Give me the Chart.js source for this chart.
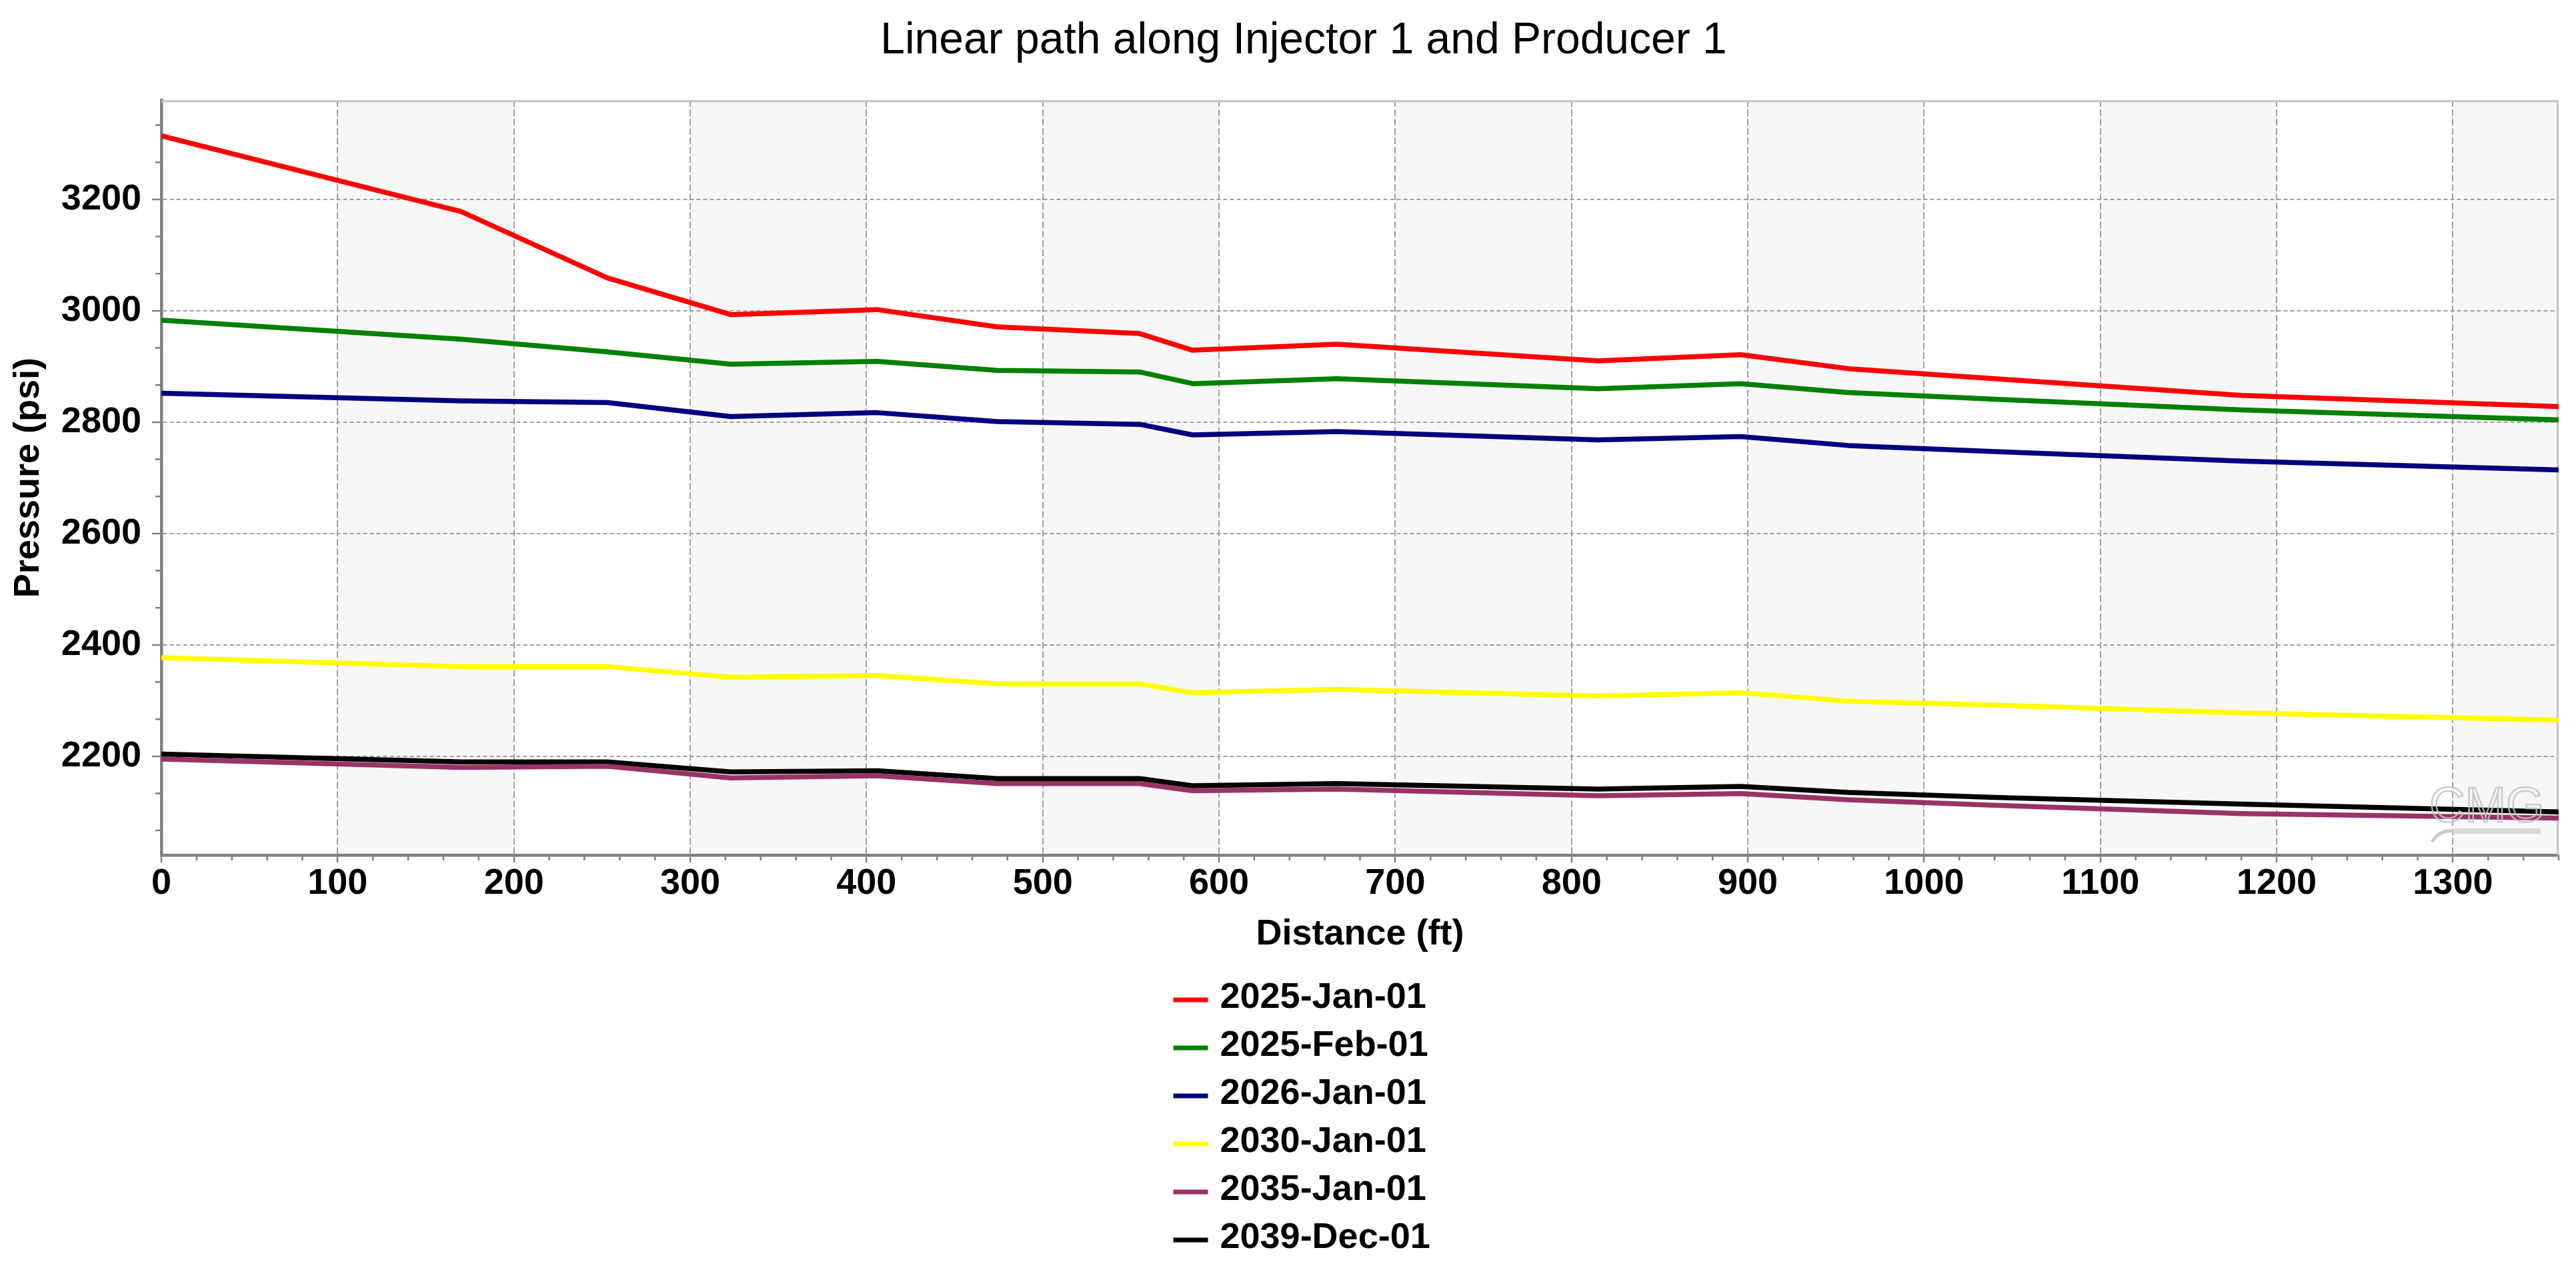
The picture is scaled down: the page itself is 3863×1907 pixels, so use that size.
<!DOCTYPE html>
<html>
<head>
<meta charset="utf-8">
<script src="https://cdn.jsdelivr.net/npm/chart.js@4.4.1/dist/chart.umd.min.js"></script>
<style>
html,body{margin:0;padding:0;background:#ffffff;overflow:hidden}
canvas{display:block}
</style>
</head>
<body>
<canvas id="c" width="3863" height="1907" style="width:3863px;height:1907px"></canvas>
<script>
// ---------------- data ----------------
const distanceFt = [0, 170, 253, 323, 406, 474, 555, 585, 667, 815, 896, 957, 1040, 1180, 1360];
const seriesLabels = ['2025-Jan-01', '2025-Feb-01', '2026-Jan-01', '2030-Jan-01', '2035-Jan-01', '2039-Dec-01'];
const p2025Jan = [3314, 3178, 3059, 2993, 3002, 2971, 2959, 2929, 2940, 2910, 2921, 2896, 2878, 2848, 2828];
const p2025Feb = [2983, 2949, 2926, 2904, 2909, 2893, 2890, 2869, 2878, 2860, 2869, 2853, 2841, 2822, 2804];
const p2026Jan = [2852, 2838, 2835, 2810, 2817, 2801, 2796, 2777, 2783, 2768, 2774, 2758, 2747, 2730, 2714];
const p2030Jan = [2377, 2361, 2361, 2342, 2345, 2330, 2330, 2314, 2320, 2308, 2314, 2299, 2292, 2278, 2265];
const p2035Jan = [2195, 2180, 2182, 2161, 2165, 2151, 2151, 2138, 2141, 2129, 2133, 2122, 2112, 2097, 2089];
const p2039Dec = [2204, 2190, 2190, 2172, 2174, 2160, 2160, 2147, 2151, 2141, 2146, 2135, 2126, 2114, 2100];
const xTickValues = [0, 100, 200, 300, 400, 500, 600, 700, 800, 900, 1000, 1100, 1200, 1300];
const yTickValues = [2200, 2400, 2600, 2800, 3000, 3200];
const yMinorTicks = [2066.67, 2133.33, 2266.67, 2333.33, 2466.67, 2533.33, 2666.67, 2733.33, 2866.67, 2933.33, 3066.67, 3133.33, 3266.67, 3333.33];
const xMinorStep = 20;

const seriesValues = [p2025Jan, p2025Feb, p2026Jan, p2030Jan, p2035Jan, p2039Dec];
const seriesColors = ['#ff0000', '#008000', '#000080', '#ffff00', '#993366', '#000000'];

const FAMILY = '"Liberation Sans", Arial, Helvetica, sans-serif';
const boldFont = {family: FAMILY, size: 54, weight: 'bold', lineHeight: 1.2};

// ---------------- decorations plugin ----------------
const decor = {
  id: 'decor',
  beforeDraw(chart) {
    const {ctx, chartArea: a, scales: {x}} = chart;
    ctx.save();
    ctx.fillStyle = '#f7f7f7';
    for (let i = 1; i < xTickValues.length; i += 2) {
      const l = x.getPixelForValue(xTickValues[i]);
      const rv = (i + 1 < xTickValues.length) ? xTickValues[i + 1] : x.max;
      const r = Math.min(x.getPixelForValue(rv), a.right);
      ctx.fillRect(l, a.top, r - l, a.bottom - a.top);
    }
    ctx.restore();
  },
  beforeDatasetsDraw(chart) {
    const {ctx, chartArea: a, scales: {x, y}} = chart;
    ctx.save();
    // light top / right frame
    ctx.strokeStyle = '#c4c4c4';
    ctx.lineWidth = 3;
    ctx.beginPath();
    ctx.moveTo(a.left, a.top + 1.5);
    ctx.lineTo(a.right - 1.5, a.top + 1.5);
    ctx.lineTo(a.right - 1.5, a.bottom);
    ctx.stroke();
    // minor ticks
    ctx.strokeStyle = '#808080';
    ctx.lineWidth = 2.5;
    ctx.beginPath();
    yMinorTicks.forEach(v => {
      const py = y.getPixelForValue(v);
      ctx.moveTo(a.left - 9, py);
      ctx.lineTo(a.left - 2, py);
    });
    for (let v = x.min; v <= x.max + 0.01; v += xMinorStep) {
      if (xTickValues.includes(v)) continue;
      const px = x.getPixelForValue(v);
      ctx.moveTo(px, a.bottom + 2);
      ctx.lineTo(px, a.bottom + 8);
    }
    ctx.stroke();
    ctx.restore();
  },
  afterDatasetsDraw(chart) {
    // CMG watermark
    const {ctx, chartArea: a} = chart;
    ctx.save();
    ctx.font = '74px ' + FAMILY;
    ctx.textAlign = 'left';
    ctx.textBaseline = 'alphabetic';
    ctx.strokeStyle = 'rgba(195,195,195,0.85)';
    ctx.lineWidth = 2.5;
    ctx.strokeText('CMG', a.right - 194, a.bottom - 50);
    ctx.fillStyle = 'rgba(210,210,210,0.85)';
    ctx.fillRect(a.right - 160, a.bottom - 40, 133, 8);
    ctx.beginPath();
    ctx.lineWidth = 5;
    ctx.moveTo(a.right - 190, a.bottom - 20);
    ctx.quadraticCurveTo(a.right - 178, a.bottom - 38, a.right - 160, a.bottom - 36);
    ctx.stroke();
    ctx.restore();
  },
  afterDraw(chart) {
    // legend: one entry per row, below the x-axis title
    const {ctx} = chart;
    const cx = chart.width / 2;
    ctx.save();
    ctx.font = 'bold 54px ' + FAMILY;
    ctx.textAlign = 'left';
    ctx.textBaseline = 'middle';
    chart.data.datasets.forEach((d, i) => {
      const cy = 1499 + 72 * i;
      ctx.strokeStyle = d.borderColor;
      ctx.lineWidth = 7;
      ctx.beginPath();
      ctx.moveTo(cx - 172, cy);
      ctx.lineTo(cx - 120, cy);
      ctx.stroke();
      ctx.fillStyle = '#000000';
      ctx.fillText(d.label, cx - 102, cy - 3);
    });
    ctx.restore();
  }
};

// ---------------- chart ----------------
Chart.defaults.color = '#000000';

new Chart(document.getElementById('c'), {
  type: 'line',
  data: {
    datasets: seriesLabels.map((lab, i) => ({
      label: lab,
      data: distanceFt.map((xv, j) => ({x: xv, y: seriesValues[i][j]})),
      borderColor: seriesColors[i],
      backgroundColor: seriesColors[i],
      borderWidth: 7.5,
      pointRadius: 0,
      pointHoverRadius: 0,
      tension: 0,
      fill: false,
      borderJoinStyle: 'round'
    }))
  },
  options: {
    responsive: false,
    devicePixelRatio: 1,
    animation: false,
    layout: {padding: {left: 73, right: 26, top: 0, bottom: 465}},
    plugins: {
      legend: {display: false},
      tooltip: {enabled: false},
      title: {
        display: true,
        text: 'Linear path along Injector 1 and Producer 1',
        color: '#000000',
        font: {family: FAMILY, size: 66, weight: 'normal', lineHeight: 1.2},
        padding: {top: 22, bottom: 49}
      }
    },
    scales: {
      x: {
        type: 'linear',
        min: 0,
        max: 1360,
        afterBuildTicks: s => { s.ticks = xTickValues.map(v => ({value: v})); },
        afterFit: s => { s.height = 160; },
        ticks: {callback: v => String(v), font: boldFont, color: '#000000', padding: 0, maxRotation: 0, autoSkip: false},
        grid: {color: '#a0a0a0', lineWidth: 2, tickLength: 11, tickColor: '#808080', tickWidth: 2.5},
        border: {display: true, color: '#808080', width: 4.5, dash: [10, 4]},
        title: {display: true, text: 'Distance (ft)', color: '#000000', font: boldFont, padding: {top: 0, bottom: 8}}
      },
      y: {
        type: 'linear',
        min: 2022.5,
        max: 3378,
        afterBuildTicks: s => { s.ticks = yTickValues.map(v => ({value: v})); },
        afterFit: s => { s.width = 169; },
        ticks: {callback: v => String(v), font: boldFont, color: '#000000', padding: 16},
        grid: {color: '#a0a0a0', lineWidth: 2, tickLength: 14, tickColor: '#808080', tickWidth: 2.5},
        border: {display: true, color: '#808080', width: 4.5, dash: [6, 4]},
        title: {display: true, text: 'Pressure (psi)', color: '#000000', font: boldFont, padding: {top: -62, bottom: 0}}
      }
    }
  },
  plugins: [decor]
});
</script>
</body>
</html>
